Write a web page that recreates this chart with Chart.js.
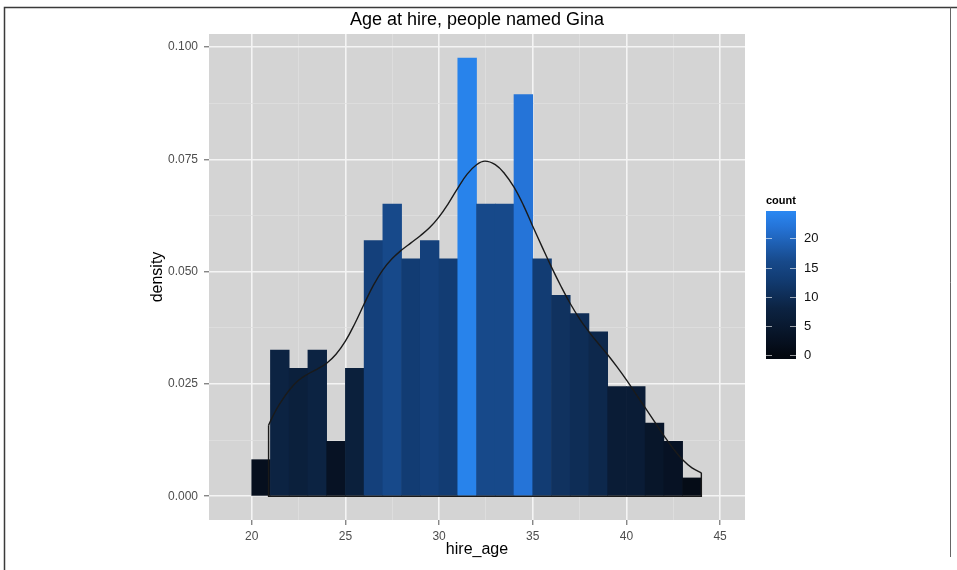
<!DOCTYPE html>
<html lang="en">
<head>
<meta charset="UTF-8">
<title>Age at hire, people named Gina</title>
<script src="https://cdn.jsdelivr.net/npm/chart.js"></script>
<style>
  body { margin: 0; background: #fff; }
  canvas { display: block; }
</style>
</head>
<body>
<canvas id="hireChart" width="957" height="570"></canvas>
<script>
// histogram bins, 1 year wide (left edge of each bin)
const binStarts = [20, 21, 22, 23, 24, 25, 26, 27, 28, 29, 30, 31, 32, 33, 34, 35, 36, 37, 38, 39, 40, 41, 42, 43];
const binCounts = [2, 8, 7, 8, 3, 7, 14, 16, 13, 14, 13, 24, 16, 16, 22, 13, 11, 10, 9, 6, 6, 4, 3, 1];

// kernel density curve
const densityX = [20.9, 21.2, 21.5, 22.0, 22.5, 23.0, 23.5, 24.0, 24.5, 25.0, 25.5, 26.0, 26.5, 27.0, 27.5,
                  28.0, 28.5, 29.0, 29.5, 30.0, 30.5, 31.0, 31.5, 32.0, 32.45, 33.0, 33.5, 34.0, 34.5, 35.0,
                  35.5, 36.0, 36.5, 37.0, 37.5, 38.0, 38.5, 39.0, 39.5, 40.0, 40.5, 41.0, 41.5, 42.0, 42.5,
                  43.0, 43.5, 44.0];
const densityY = [0.0158, 0.0184, 0.0206, 0.0236, 0.0258, 0.0272, 0.0283, 0.0296, 0.0316, 0.0345, 0.0384, 0.0428, 0.0470, 0.0504, 0.0529,
                  0.0548, 0.0564, 0.0580, 0.0598, 0.0622, 0.0652, 0.0686, 0.0717, 0.0738, 0.0746, 0.0738, 0.0718, 0.0688, 0.0648, 0.0601,
                  0.0555, 0.0510, 0.0468, 0.0429, 0.0395, 0.0366, 0.0340, 0.0315, 0.0288, 0.0259, 0.0228, 0.0197, 0.0166, 0.0135, 0.0106,
                  0.0081, 0.0063, 0.0052];

const xTicks = [20, 25, 30, 35, 40, 45];
const xMinor = [22.5, 27.5, 32.5, 37.5, 42.5];
const yTicks = [0, 0.025, 0.05, 0.075, 0.1];
const yMinor = [0.0125, 0.0375, 0.0625, 0.0875];
const legendTicks = [0, 5, 10, 15, 20];

// fill colour by count (dark navy -> bright blue)
const fillStops = [
  [0, [3, 8, 16]], [2, [6, 15, 30]], [8, [12, 35, 66]], [13, [18, 60, 115]],
  [16, [23, 73, 138]], [22, [37, 116, 216]], [25, [42, 138, 245]]
];
function fillFor(v) {
  for (let i = 1; i < fillStops.length; i++) {
    const [v0, c0] = fillStops[i - 1], [v1, c1] = fillStops[i];
    if (v <= v1 || i === fillStops.length - 1) {
      const t = Math.max(0, Math.min(1, (v - v0) / (v1 - v0)));
      const c = c0.map((a, k) => Math.round(a + (c1[k] - a) * t));
      return `rgb(${c[0]},${c[1]},${c[2]})`;
    }
  }
}

const total = binCounts.reduce((a, b) => a + b, 0);
const barData = binStarts.map((s, i) => ({ x: s + 0.5, y: binCounts[i] / total }));
const curveData = densityX.map((x, i) => ({ x: x, y: densityY[i] }));
const last = densityX.length - 1;
const outlineData = [
  { x: densityX[0], y: densityY[0] }, { x: densityX[0], y: 0 },
  { x: densityX[last], y: 0 }, { x: densityX[last], y: densityY[last] }
];

const isMajor = (list, v) => list.some(t => Math.abs(t - v) < 1e-9);

// grey panel behind the grid
const panelBg = {
  id: 'panelBg',
  beforeDraw(chart) {
    const { ctx, chartArea: a } = chart;
    ctx.save();
    ctx.fillStyle = '#d4d4d4';
    ctx.fillRect(a.left, a.top, a.right - a.left, a.bottom - a.top);
    ctx.restore();
  }
};

// title centred over the panel, colour bar legend, outer frame
const countLegend = {
  id: 'countLegend',
  afterDraw(chart) {
    const ctx = chart.ctx;
    const a = chart.chartArea;
    ctx.save();
    ctx.fillStyle = '#000';
    ctx.font = '18px "Liberation Sans", Arial, sans-serif';
    ctx.textAlign = 'center';
    ctx.textBaseline = 'middle';
    ctx.fillText('Age at hire, people named Gina', (a.left + a.right) / 2, 20);

    const left = 766, w = 30, top = 211, bottom = 359;
    const vTop = 24.7, vBottom = -0.7;
    const yFor = v => bottom - (v - vBottom) / (vTop - vBottom) * (bottom - top);
    const g = ctx.createLinearGradient(0, bottom, 0, top);
    g.addColorStop(0, fillFor(0));
    fillStops.forEach(([v]) => {
      const t = (v - vBottom) / (vTop - vBottom);
      if (t >= 0 && t <= 1) g.addColorStop(t, fillFor(v));
    });
    g.addColorStop(1, fillFor(vTop));
    ctx.fillStyle = g;
    ctx.fillRect(left, top, w, bottom - top);

    ctx.strokeStyle = 'rgba(255,255,255,0.6)';
    ctx.lineWidth = 1;
    ctx.fillStyle = '#111';
    ctx.font = '13px "Liberation Sans", Arial, sans-serif';
    ctx.textAlign = 'left';
    legendTicks.forEach(v => {
      const y = Math.round(yFor(v)) + 0.5;
      ctx.beginPath();
      ctx.moveTo(left, y); ctx.lineTo(left + 6, y);
      ctx.moveTo(left + w - 6, y); ctx.lineTo(left + w, y);
      ctx.stroke();
      ctx.fillText(String(v), left + w + 8, y);
    });
    ctx.font = 'bold 11px "Liberation Sans", Arial, sans-serif';
    ctx.fillStyle = '#000';
    ctx.fillText('count', left, 201);

    // frame of the original screenshot
    ctx.strokeStyle = '#3a3a3a';
    ctx.lineWidth = 1.5;
    ctx.beginPath();
    ctx.moveTo(4.5, 570); ctx.lineTo(4.5, 7.5); ctx.lineTo(957, 7.5);
    ctx.stroke();
    ctx.lineWidth = 1;
    ctx.strokeStyle = '#666';
    ctx.beginPath();
    ctx.moveTo(950.5, 7.5); ctx.lineTo(950.5, 557);
    ctx.stroke();
    ctx.restore();
  }
};

Chart.defaults.font.family = '"Liberation Sans", Arial, sans-serif';

const ctx = document.getElementById('hireChart').getContext('2d');
new Chart(ctx, {
  type: 'bar',
  data: {
    datasets: [
      {
        type: 'line', data: curveData, order: 0,
        borderColor: '#1a1a1a', borderWidth: 1.4, pointRadius: 0, fill: false,
        tension: 0.4
      },
      {
        type: 'line', data: outlineData, order: 0,
        borderColor: '#1a1a1a', borderWidth: 1.4, pointRadius: 0, fill: false, tension: 0
      },
      {
        type: 'bar', data: barData, order: 1,
        backgroundColor: binCounts.map(fillFor),
        borderWidth: 0, barPercentage: 1, categoryPercentage: 1
      }
    ]
  },
  options: {
    responsive: false,
    animation: false,
    layout: { padding: { left: 148, right: 212, top: 34, bottom: 11 } },
    plugins: {
      legend: { display: false },
      tooltip: { enabled: false },
      title: { display: false }
    },
    scales: {
      x: {
        type: 'linear',
        min: 17.72, max: 46.33,
        offset: false,
        afterBuildTicks: s => {
          s.ticks = [...xTicks, ...xMinor].sort((a, b) => a - b).map(v => ({ value: v }));
        },
        afterFit: s => { s.height = 39; },
        ticks: {
          autoSkip: false, maxRotation: 0, padding: 4,
          color: '#4d4d4d', font: { size: 12 },
          callback: v => isMajor(xTicks, v) ? String(v) : ''
        },
        grid: {
          offset: false,
          tickLength: 5,
          color: c => c.tick && isMajor(xTicks, c.tick.value) ? '#f4f4f4' : '#e0e0e0',
          lineWidth: c => c.tick && isMajor(xTicks, c.tick.value) ? 1.6 : 0.8,
          tickColor: c => c.tick && isMajor(xTicks, c.tick.value) ? '#555' : 'rgba(0,0,0,0)',
          tickWidth: 1
        },
        border: { display: false },
        title: { display: true, text: 'hire_age', color: '#000', font: { size: 16 }, padding: 0 }
      },
      y: {
        type: 'linear',
        min: -0.0053, max: 0.1029,
        afterBuildTicks: s => {
          s.ticks = [...yTicks, ...yMinor].sort((a, b) => a - b).map(v => ({ value: v }));
        },
        afterFit: s => { s.width = 61; },
        ticks: {
          autoSkip: false, padding: 6,
          color: '#4d4d4d', font: { size: 12 },
          callback: v => isMajor(yTicks, v) ? v.toFixed(3) : ''
        },
        grid: {
          tickLength: 5,
          color: c => c.tick && isMajor(yTicks, c.tick.value) ? '#f4f4f4' : '#e0e0e0',
          lineWidth: c => c.tick && isMajor(yTicks, c.tick.value) ? 1.6 : 0.8,
          tickColor: c => c.tick && isMajor(yTicks, c.tick.value) ? '#555' : 'rgba(0,0,0,0)',
          tickWidth: 1
        },
        border: { display: false },
        title: { display: true, text: 'density', color: '#000', font: { size: 16 }, padding: 0 }
      }
    }
  },
  plugins: [panelBg, countLegend]
});
</script>
</body>
</html>
